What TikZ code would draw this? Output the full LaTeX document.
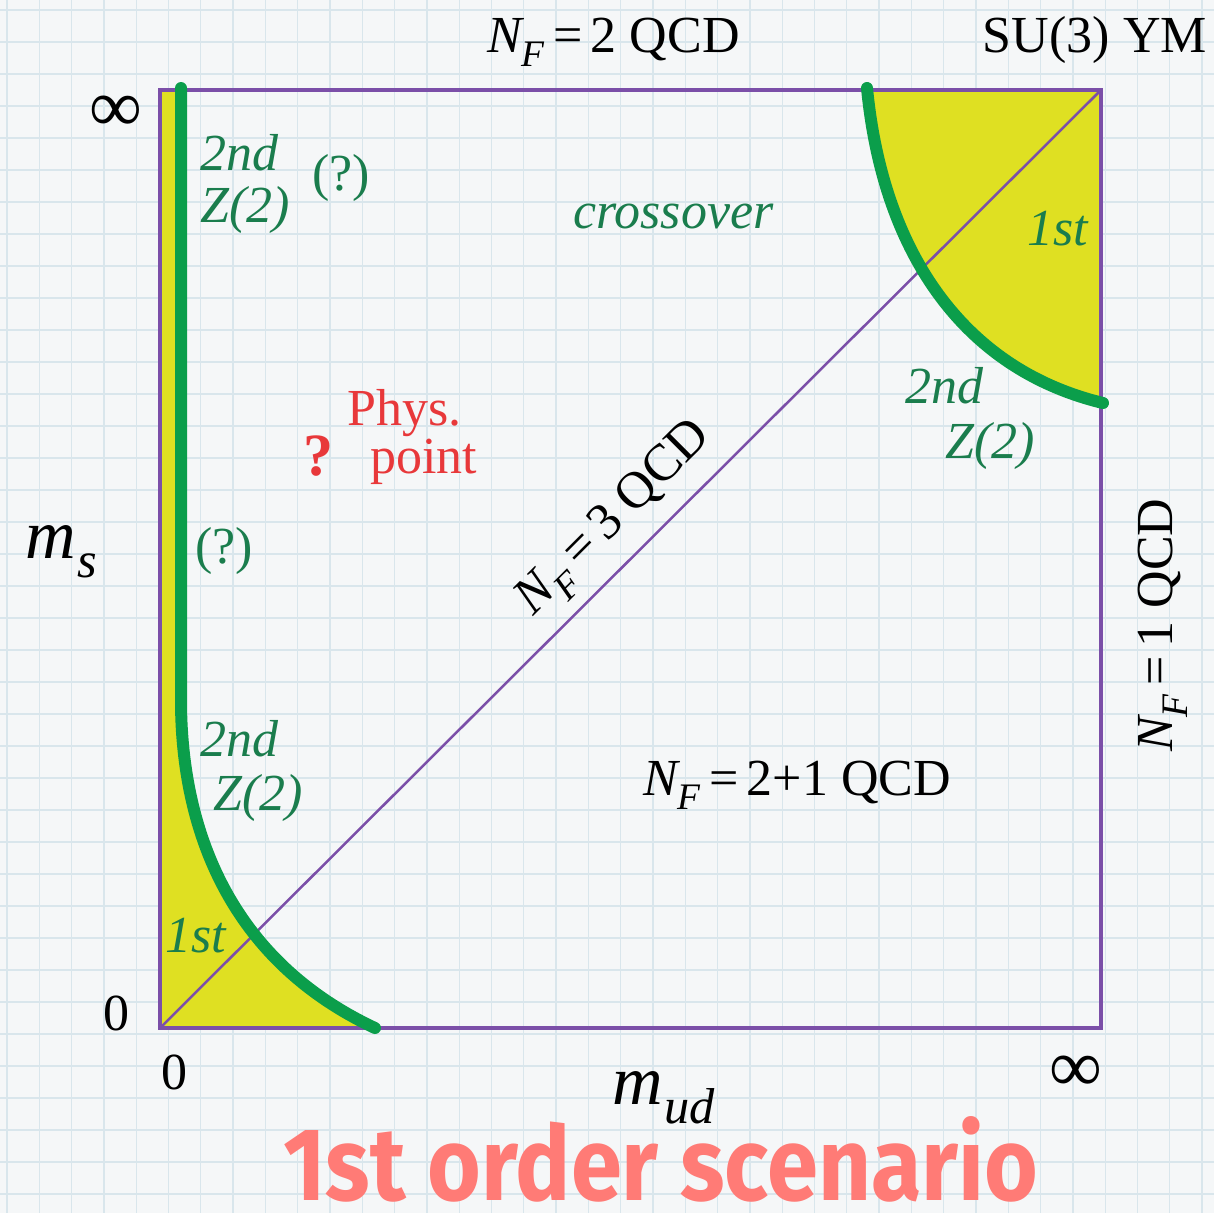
\documentclass[tikz,border=0pt]{standalone}
\usepackage{fontspec}
\setmainfont{Liberation Serif}
\newfontfamily\titlefont{Fira Sans}
\usetikzlibrary{calc}
\definecolor{bgc}{HTML}{F5F7F8}
\definecolor{gridc}{HTML}{D9E6EC}
\definecolor{boxc}{HTML}{7B4FA8}
\definecolor{yelc}{HTML}{DFE022}
\definecolor{grnl}{HTML}{0B9E4B}
\definecolor{grnt}{HTML}{1A7D4D}
\definecolor{redt}{HTML}{E8383A}
\definecolor{titc}{HTML}{FF7B76}
\newcommand\lowsub[1]{\raisebox{-0.28em}{\scalebox{0.72}{\textit{#1}}}}
\newcommand\NFsym{\textit{N}\kern-0.06em\lowsub{F}}
\tikzset{
  lbl/.style={inner sep=0pt, anchor=base west, font=\fontsize{52}{58}\selectfont},
  glbl/.style={lbl, text=grnt, font=\fontsize{52}{58}\selectfont\itshape},
  gup/.style={lbl, text=grnt},
  rlbl/.style={lbl, text=redt},
  phase/.style={line width=12pt, draw=grnl, line cap=round},
}
\begin{document}
\begin{tikzpicture}[x=1pt,y=-1pt]
\useasboundingbox[fill=bgc] (0,0) rectangle (1214,1213);
% grid
\foreach \i in {0,...,37} {
  \draw[gridc, line width=1.3pt] (7+\i*32.3,0) -- (7+\i*32.3,1213);
  \draw[gridc, line width=1.3pt] (0,10+\i*32) -- (1214,10+\i*32);
}
% corner coordinates
\coordinate (BL) at (160,1028);
\coordinate (TL) at (160,90);
\coordinate (TR) at (1101,90);
\coordinate (BR) at (1101,1028);
% yellow regions
\fill[yelc] (160,90) -- (181,90) -- (181,700) .. controls (181,830) and (230,960) .. (375,1028) -- (160,1028) -- cycle;
\fill[yelc] (867,90) .. controls (882,245) and (958,368) .. (1101,403) -- (1101,90) -- cycle;
% box and diagonal
\draw[boxc, line width=4pt] (TL) rectangle (BR);
\draw[boxc, line width=2.5pt] (BL) -- (TR);
% green transition lines
\coordinate (g1) at (181,88);
\coordinate (g2) at (375,1028);
\draw[phase] (g1) -- (181,700) .. controls (181,830) and (230,960) .. (g2);
\coordinate (g3) at (867,88);
\coordinate (g4) at (1103,403);
\draw[phase] (g3) .. controls (882,245) and (958,368) .. (g4);
% outer labels
\node[lbl] (nf2) at (487,52) {\NFsym\,=\,2 QCD};
\node[lbl, anchor=base east] (su3) at (1207,52) {SU(3) YM};
\node[lbl, anchor=center, font=\fontsize{74}{80}\selectfont] (inf1) at (116,114) {∞};
\node[lbl, anchor=center] (zero1) at (116,1013) {0};
\node[lbl, anchor=center] (zero2) at (174,1072) {0};
\node[lbl, anchor=center, font=\fontsize{74}{80}\selectfont] (inf2) at (1076,1074) {∞};
\node[lbl, font=\fontsize{70}{76}\selectfont] (ms) at (25,558) {\textit{m}\kern0.02em\lowsub{s}};
\node[lbl, font=\fontsize{70}{76}\selectfont] (mud) at (612,1104) {\textit{m}\kern0.02em\lowsub{ud}};
\node[lbl, anchor=center, rotate=90] (nf1) at (1163,625) {\NFsym\,=\,1 QCD};
% inner labels
\node[glbl] (a1) at (200,170) {2nd};
\node[glbl] (a2) at (200,222) {Z(2)};
\node[gup] (q1) at (312,190) {(?)};
\node[glbl] (cr) at (573,228) {crossover};
\node[glbl] (f1) at (1027,245) {1st};
\node[rlbl] (ph1) at (347,425) {Phys.};
\node[rlbl] (ph2) at (370,473) {point};
\node[rlbl, anchor=center, font=\fontsize{60}{66}\selectfont\bfseries] (qm) at (318,456) {?};
\node[gup] (q2) at (195,563) {(?)};
\node[lbl, anchor=center, rotate=45] (nf3) at (616,520) {\NFsym\,=\,3 QCD};
\node[glbl] (b1) at (905,403) {2nd};
\node[glbl] (b2) at (945,458) {Z(2)};
\node[glbl] (c1) at (200,756) {2nd};
\node[glbl] (c2) at (213,810) {Z(2)};
\node[glbl] (f2) at (165,952) {1st};
\node[lbl] (nf21) at (643,795) {\NFsym\,=\,2+1 QCD};
% title
\node[inner sep=0pt, anchor=base west, text=titc] (title) at (283,1200)
  {\resizebox{755pt}{84pt}{\titlefont\bfseries 1st order scenario}};
\end{tikzpicture}
\end{document}
